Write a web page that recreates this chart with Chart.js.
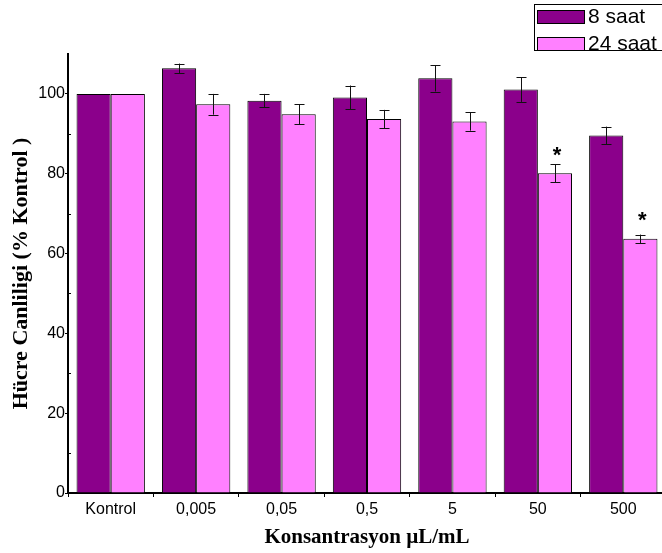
<!DOCTYPE html>
<html>
<head>
<meta charset="utf-8">
<script src="https://cdn.jsdelivr.net/npm/chart.js@4.4.1/dist/chart.umd.min.js"></script>
<style>
  html, body { margin: 0; padding: 0; background: #ffffff; }
  #wrap { position: relative; width: 662px; height: 553px; }
</style>
</head>
<body>
<div id="wrap"><canvas id="c" width="662" height="553"></canvas></div>
<script>
// Concentrations tested (µL/mL)
const categories = ['Kontrol', '0,005', '0,05', '0,5', '5', '50', '500'];

// Cell viability (% of control) after 8 h and 24 h
const viability8h  = [100, 106.4, 98.3, 99.1, 103.9, 101.1, 89.6];
const viability24h = [100, 97.4, 94.9, 93.7, 93.1, 80.1, 63.7];

// Standard deviations
const sd8h  = [0, 1.2, 1.7, 3.0, 3.3, 3.1, 2.2];
const sd24h = [0, 2.6, 2.5, 2.3, 2.3, 2.25, 1.05];

// Significant difference from control (24 h)
const significant24h = [false, false, false, false, false, true, true];

const seriesNames = ['8 saat', '24 saat'];
const yTicks = [0, 20, 40, 60, 80, 100];

const PURPLE = '#8b008b';
const PINK = '#ff80ff';

// The category axis runs a little past the right edge of the canvas
const extendPlot = {
  id: 'extendPlot',
  afterLayout(chart, args, opts) {
    const x = chart.scales.x;
    const right = chart.width + (opts.overhang || 0);
    x.right = right;
    x.width = right - x.left;
    x.configure();
    chart.chartArea.right = right;
    chart.chartArea.width = right - chart.chartArea.left;
  }
};

// Error bars with caps, drawn from each bar's value and SD
const errorBars = {
  id: 'errorBars',
  afterDatasetsDraw(chart) {
    const ctx = chart.ctx;
    const y = chart.scales.y;
    ctx.save();
    ctx.strokeStyle = '#111';
    ctx.lineWidth = 1;
    chart.data.datasets.forEach((ds, di) => {
      const meta = chart.getDatasetMeta(di);
      meta.data.forEach((bar, i) => {
        const e = ds.sd[i];
        if (!e) return;
        const v = ds.data[i];
        const x = Math.round(bar.x) + 0.5;
        const top = y.getPixelForValue(v + e);
        const bot = y.getPixelForValue(v - e);
        const half = 5;
        ctx.beginPath();
        ctx.moveTo(x, top); ctx.lineTo(x, bot);
        ctx.moveTo(x - half, Math.round(top) + 0.5); ctx.lineTo(x + half, Math.round(top) + 0.5);
        ctx.moveTo(x - half, Math.round(bot) + 0.5); ctx.lineTo(x + half, Math.round(bot) + 0.5);
        ctx.stroke();
      });
    });
    ctx.restore();
  }
};

// Asterisks above significantly different bars
const sigMarks = {
  id: 'sigMarks',
  afterDatasetsDraw(chart, args, opts) {
    const ctx = chart.ctx;
    const y = chart.scales.y;
    const di = 1;
    const ds = chart.data.datasets[di];
    const meta = chart.getDatasetMeta(di);
    ctx.save();
    ctx.fillStyle = '#000';
    ctx.font = 'bold 22px "Liberation Sans", Arial, sans-serif';
    ctx.textAlign = 'center';
    ctx.textBaseline = 'middle';
    significant24h.forEach((s, i) => {
      if (!s) return;
      const bar = meta.data[i];
      const top = y.getPixelForValue(ds.data[i] + ds.sd[i]);
      const gap = (opts.gaps && opts.gaps[i]) || 14;
      ctx.fillText('*', bar.x + 2, top - gap + 4);
    });
    ctx.restore();
  }
};

// Minor y ticks pointing into the plot
const minorTicks = {
  id: 'minorTicks',
  afterDraw(chart) {
    const ctx = chart.ctx;
    const y = chart.scales.y;
    const x0 = chart.chartArea.left;
    ctx.save();
    ctx.strokeStyle = '#000';
    ctx.lineWidth = 1;
    ctx.beginPath();
    for (let v = 10; v <= 100; v += 20) {
      const py = Math.round(y.getPixelForValue(v)) + 0.5;
      ctx.moveTo(x0, py); ctx.lineTo(x0 + 3, py);
    }
    ctx.stroke();
    ctx.restore();
  }
};

// Boxed legend in the top-right corner
const boxLegend = {
  id: 'boxLegend',
  afterDraw(chart) {
    const ctx = chart.ctx;
    const ds = chart.data.datasets;
    ctx.save();
    ctx.strokeStyle = '#000';
    ctx.lineWidth = 1;
    ctx.strokeRect(534.5, 4.5, 140, 46);
    ctx.font = '21px "Liberation Sans", Arial, sans-serif';
    ctx.textBaseline = 'middle';
    ctx.textAlign = 'left';
    ds.forEach((d, i) => {
      const top = 10 + i * 27;
      ctx.fillStyle = d.backgroundColor;
      ctx.fillRect(537.5, top + 0.5, 47, 13);
      ctx.strokeRect(537.5, top + 0.5, 47, 13);
      ctx.fillStyle = '#000';
      ctx.fillText(d.label, 588, top + 7.5);
    });
    ctx.restore();
  }
};

new Chart(document.getElementById('c'), {
  type: 'bar',
  data: {
    labels: categories,
    datasets: [
      { label: seriesNames[0], data: viability8h, sd: sd8h,
        backgroundColor: PURPLE, borderColor: '#000', borderWidth: 1 },
      { label: seriesNames[1], data: viability24h, sd: sd24h,
        backgroundColor: PINK, borderColor: '#000', borderWidth: 1 }
    ]
  },
  options: {
    responsive: false,
    animation: false,
    devicePixelRatio: 1,
    layout: { padding: { top: 54, right: 0, left: 0, bottom: 0 } },
    datasets: { bar: { categoryPercentage: 0.8, barPercentage: 1.0 } },
    plugins: {
      legend: { display: false },
      tooltip: { enabled: false },
      extendPlot: { overhang: 4 },
      sigMarks: { gaps: { 5: 12, 6: 18 } }
    },
    scales: {
      x: {
        offset: true,
        grid: { display: true, drawOnChartArea: false, offset: true, tickLength: 4, color: '#000' },
        border: { display: true, color: '#000', width: 2 },
        ticks: { color: '#000', padding: 3, font: { family: '"Liberation Sans", Arial, sans-serif', size: 16 } },
        title: {
          display: true, text: 'Konsantrasyon µL/mL', color: '#000',
          font: { family: '"Liberation Serif", "Times New Roman", serif', size: 21, weight: 'bold' },
          padding: { top: 0, bottom: 3 }
        },
        afterFit(s) { s.height = 60; }
      },
      y: {
        min: 0, max: 110,
        afterBuildTicks(s) { s.ticks = yTicks.map(v => ({ value: v })); },
        grid: { display: true, drawOnChartArea: false, tickLength: 3, color: '#000' },
        border: { display: true, color: '#000', width: 2 },
        ticks: { color: '#000', padding: 0, font: { family: '"Liberation Sans", Arial, sans-serif', size: 16 } },
        title: {
          display: true, text: 'Hücre Canliligi (% Kontrol )', color: '#000',
          font: { family: '"Liberation Serif", "Times New Roman", serif', size: 22, weight: 'bold' },
          padding: { top: 8, bottom: 0 }
        },
        afterFit(s) { s.width = 68; }
      }
    }
  },
  plugins: [extendPlot, errorBars, sigMarks, minorTicks, boxLegend]
});
</script>
</body>
</html>
